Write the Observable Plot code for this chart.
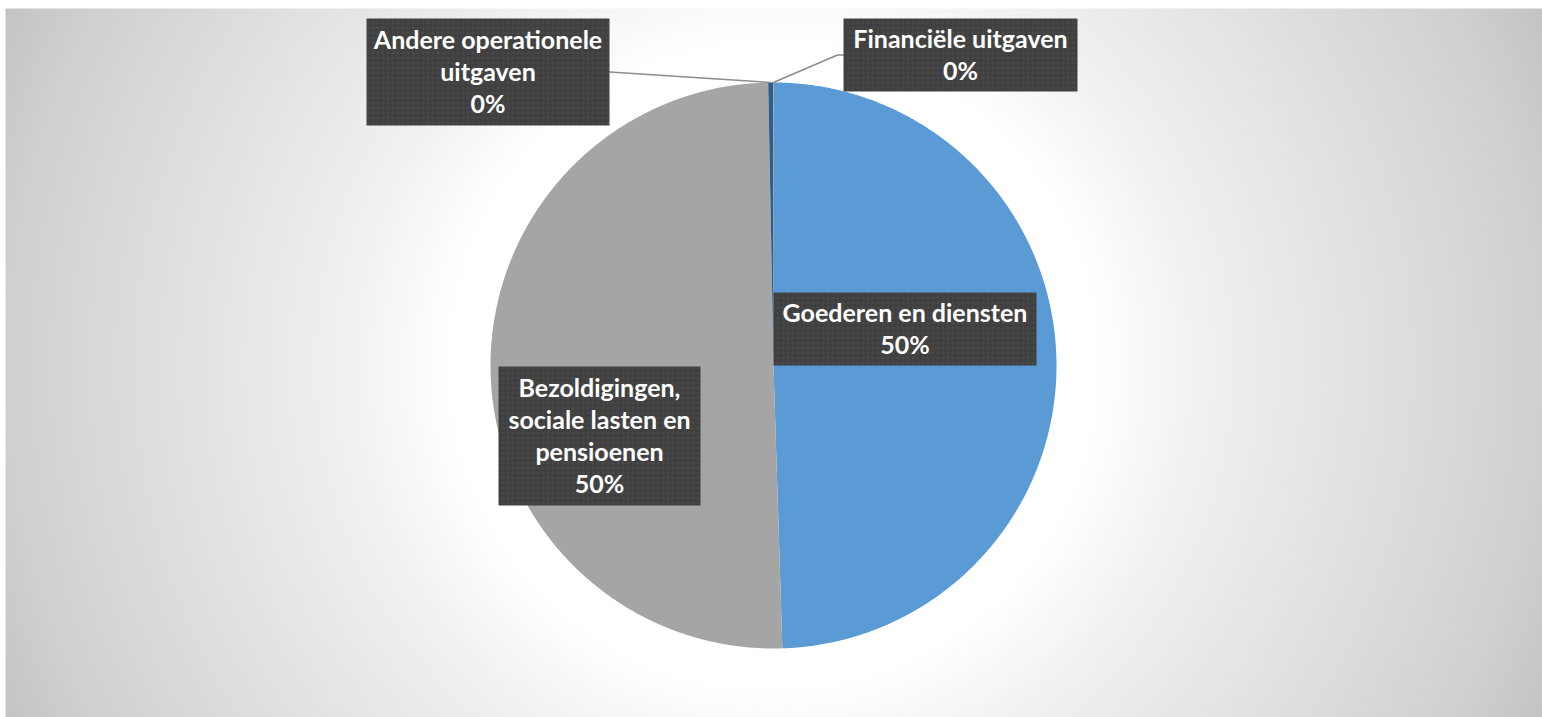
<!DOCTYPE html>
<html><head><meta charset="utf-8">
<script src="https://cdn.jsdelivr.net/npm/d3@7"></script>
<script src="https://cdn.jsdelivr.net/npm/@observablehq/plot@0.6"></script>
<style>html,body{margin:0;padding:0;background:#fff;overflow:hidden;} #chart svg{display:block}</style>
</head><body><div id="chart"></div>
<script>
// ---- data ----
const categories = ["Goederen en diensten", "Bezoldigingen, sociale lasten en pensioenen", "Andere operationele uitgaven", "Financiële uitgaven"];
const shares = [49.5, 50.2, 0.28, 0.02];
const colors = ["#5B9BD5", "#A5A5A5", "#2A5F91", "#ED7D31"];
const labelText = ["Goederen en diensten", "Bezoldigingen,\nsociale lasten en\npensioenen", "Andere operationele\nuitgaven", "Financiële uitgaven"];

// ---- layout (pixels) ----
const W = 1542, H = 717, CX = 773, CY = 365, R = 283;
const area = {left: 5, top: 8};
const boxes = [
  {cx: 904.5, cy: 328.5, w: 263, h: 73, leader: null},
  {cx: 599, cy: 435.5, w: 202, h: 139, leader: null},
  {cx: 487.5, cy: 71.5, w: 243, h: 107, leader: "right"},
  {cx: 960, cy: 54.5, w: 234, h: 73, leader: "left"}
];
const ux = (px) => (px - CX) / R;
const uy = (py) => (CY - py) / R;

// ---- geometry from data ----
const arcs = d3.pie().sort(null).value(d => d)(shares);
const slices = arcs.map((a, i) => {
  const ring = [[0, 0]];
  const n = Math.max(2, Math.ceil((a.endAngle - a.startAngle) / 0.005));
  for (let k = 0; k <= n; ++k) {
    const t = a.startAngle + (a.endAngle - a.startAngle) * k / n;
    ring.push([Math.sin(t), Math.cos(t)]);
  }
  ring.push([0, 0]);
  return {type: "Feature", properties: {category: categories[i]}, geometry: {type: "Polygon", coordinates: [ring]}};
});

const rect = (b) => {
  const x0 = ux(b.cx - b.w / 2), x1 = ux(b.cx + b.w / 2), y0 = uy(b.cy - b.h / 2), y1 = uy(b.cy + b.h / 2);
  return {type: "Feature", properties: {}, geometry: {type: "Polygon", coordinates: [[[x0, y0], [x1, y0], [x1, y1], [x0, y1], [x0, y0]]]}};
};
const boxFeatures = boxes.map(rect);

const labels = categories.map((c, i) => ({
  x: ux(boxes[i].cx), y: uy(boxes[i].cy - 1),
  text: labelText[i] + "\n" + Math.round(shares[i]) + "%"
}));

const leaders = [];
arcs.forEach((a, i) => {
  const b = boxes[i];
  if (!b.leader) return;
  const m = (a.startAngle + a.endAngle) / 2;
  const rim = [Math.sin(m), Math.cos(m)];
  if (b.leader === "right") {
    leaders.push({id: i, x: rim[0], y: rim[1]});
    leaders.push({id: i, x: ux(b.cx + b.w / 2), y: uy(b.cy)});
  } else {
    leaders.push({id: i, x: rim[0], y: rim[1]});
    leaders.push({id: i, x: ux(b.cx - b.w / 2 - 6), y: uy(b.cy)});
    leaders.push({id: i, x: ux(b.cx - b.w / 2), y: uy(b.cy)});
  }
});

const domain = {type: "Polygon", coordinates: [[[ux(area.left), uy(area.top)], [ux(W), uy(area.top)], [ux(W), uy(H)], [ux(area.left), uy(H)], [ux(area.left), uy(area.top)]]]};

const svg = Plot.plot({
  width: W, height: H,
  marginLeft: area.left, marginTop: area.top, marginRight: 0, marginBottom: 0,
  projection: {type: "reflect-y", domain, clip: false},
  color: {domain: categories, range: colors},
  marks: [
    Plot.frame({fill: "url(#bg)", stroke: "none"}),
    Plot.geo(slices, {fill: d => d.properties.category, ariaLabel: "slices"}),
    Plot.line(leaders, {x: "x", y: "y", z: "id", stroke: "#8C8C8C", strokeWidth: 1.5, curve: "linear"}),
    Plot.geo(boxFeatures, {fill: "url(#dots)", stroke: "none", ariaLabel: "boxes"}),
    Plot.text(labels, {x: "x", y: "y", text: "text", fill: "white", fontSize: 25, fontWeight: "bold", fontFamily: "Lato", lineHeight: 1.28, textAnchor: "middle"})
  ]
});

const sel = d3.select(svg);
const defs = sel.insert("defs", ":first-child");
const g = defs.append("radialGradient").attr("id", "bg").attr("gradientUnits", "userSpaceOnUse")
  .attr("cx", CX).attr("cy", CY).attr("r", 850);
[[0, "#ffffff"], [0.38, "#ffffff"], [0.5, "#f1f1f1"], [0.9, "#d0d0d0"], [1, "#c3c3c3"]].forEach(([o, c]) =>
  g.append("stop").attr("offset", o).attr("stop-color", c));
const p = defs.append("pattern").attr("id", "dots").attr("patternUnits", "userSpaceOnUse").attr("width", 5).attr("height", 5);
p.append("rect").attr("width", 5).attr("height", 5).attr("fill", "#404040");
p.append("circle").attr("cx", 2.5).attr("cy", 2.5).attr("r", 0.9).attr("fill", "#545454");
defs.append("filter").attr("id", "shadow").attr("x", "-10%").attr("y", "-10%").attr("width", "130%").attr("height", "140%")
  .append("feDropShadow").attr("dx", 3).attr("dy", 3).attr("stdDeviation", 2).attr("flood-color", "#000").attr("flood-opacity", 0.45);
defs.append("filter").attr("id", "pieShadow").attr("x", "-10%").attr("y", "-10%").attr("width", "120%").attr("height", "120%")
  .append("feDropShadow").attr("dx", 0).attr("dy", 2).attr("stdDeviation", 3).attr("flood-color", "#000").attr("flood-opacity", 0.18);
sel.select('g[aria-label="boxes"]').attr("filter", "url(#shadow)");
sel.select('g[aria-label="slices"]').attr("filter", "url(#pieShadow)");

document.getElementById("chart").appendChild(svg);
</script>
</body></html>
